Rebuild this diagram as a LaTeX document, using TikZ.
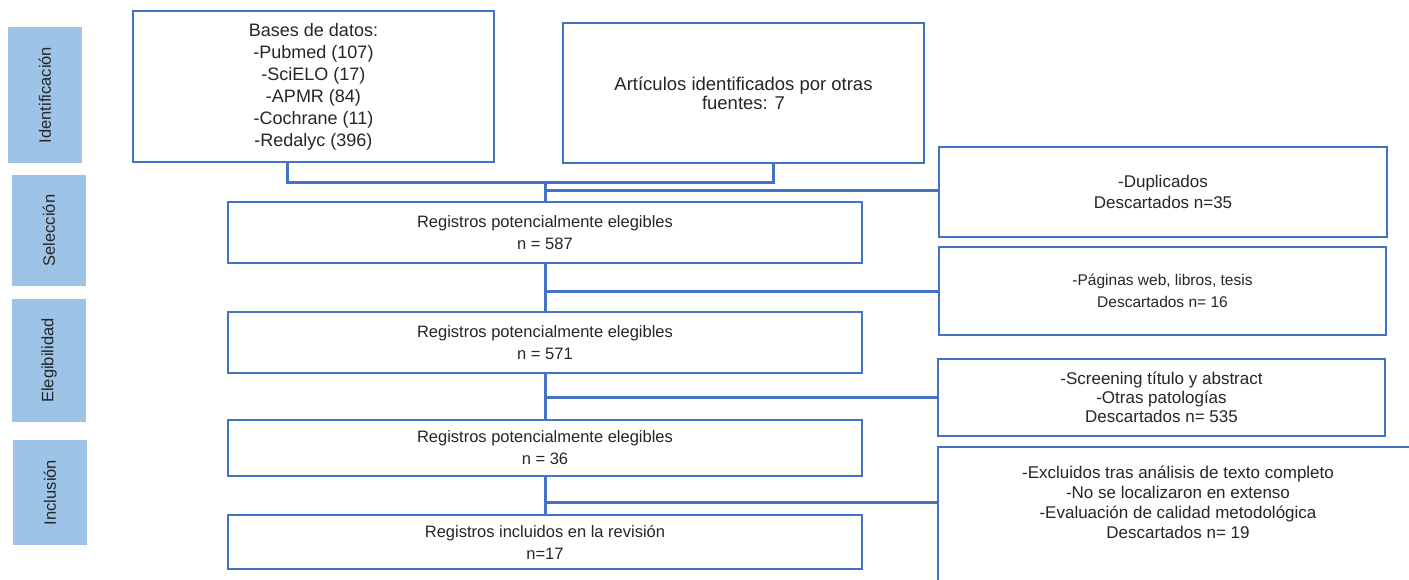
\documentclass[tikz,border=0pt]{standalone}
\usepackage{fontspec}
\setmainfont{Liberation Sans}
\definecolor{bord}{HTML}{4472C4}
\definecolor{sidefill}{HTML}{9DC3E6}
\definecolor{txt}{HTML}{262626}
\newcommand\fsz[2]{\fontsize{#1}{#2}\selectfont}
\begin{document}
\begin{tikzpicture}[x=1pt,y=-1pt,
  box/.style={draw=bord, line width=2pt, fill=white, text=txt, align=center, inner sep=0pt},
  sidelab/.style={fill=sidefill, text=txt, rotate=90, inner sep=0pt, font=\fsz{16.5}{19}},
  conn/.style={draw=bord, line width=3pt}]
\useasboundingbox (0,0) rectangle (1409,579);
\fill[white] (0,0) rectangle (1409,579);
\begin{scope}
\clip (0,0) rectangle (1409,579);
% side labels
\node[sidelab, minimum width=136, minimum height=74] (sid) at (45,95) {Identificación};
\node[sidelab, minimum width=111, minimum height=74] (sse) at (49,230.5) {Selección};
\node[sidelab, minimum width=123, minimum height=74] (sel) at (49,360.5) {Elegibilidad};
\node[sidelab, minimum width=105, minimum height=74] (sin) at (50,492.5) {Inclusión};
% top boxes
\node[box, minimum width=361, minimum height=151, font=\fsz{18}{22}] (bases) at (313.5,86.5)
  {Bases de datos:\\-Pubmed (107)\\-SciELO (17)\\-APMR (84)\\-Cochrane (11)\\-Redalyc (396)};
\node[box, minimum width=361, minimum height=140, font=\fsz{18.5}{19}] (art) at (743.5,93)
  {Artículos identificados por otras\\fuentes: 7};
% main column
\node[box, minimum width=634, minimum height=61, font=\fsz{16.5}{22}] (r1) at (545,232.5)
  {Registros potencialmente elegibles\\n = 587};
\node[box, minimum width=634, minimum height=61, font=\fsz{16.5}{22}] (r2) at (545,342.5)
  {Registros potencialmente elegibles\\n = 571};
\node[box, minimum width=634, minimum height=56, font=\fsz{16.5}{22}] (r3) at (545,448)
  {Registros potencialmente elegibles\\n = 36};
\node[box, minimum width=634, minimum height=54, font=\fsz{16.5}{22}] (r4) at (545,542)
  {Registros incluidos en la revisión\\n=17};
% right column
\node[box, minimum width=448, minimum height=90, font=\fsz{17}{21}] (dup) at (1163,192)
  {-Duplicados\\Descartados n=35};
\node[box, minimum width=447, minimum height=88, font=\fsz{15.5}{22}] (pag) at (1162.5,291)
  {-Páginas web, libros, tesis\\Descartados n= 16};
\node[box, minimum width=447, minimum height=77, font=\fsz{17}{19.3}] (scr) at (1161.5,397.5)
  {-Screening título y abstract\\-Otras patologías\\Descartados n= 535};
\node[box, anchor=north, minimum width=480, inner ysep=19pt, font=\fsz{17}{20}] (exc) at (1178,446)
  {-Excluidos tras análisis de texto completo\\-No se localizaron en extenso\\-Evaluación de calidad metodológica\\Descartados n= 19\\[40pt]\mbox{}};
% connectors
\coordinate (j1) at (287,182);
\coordinate (j2) at (773,182);
\draw[conn] (bases.south -| j1) -- (j1) -- (j2) -- (art.south -| j2);
\draw[conn] (j1 -| r1.north) -- (r1.north);
\coordinate (d1) at (545,190);
\draw[conn] (d1) -- (d1 -| dup.west);
\draw[conn] (r1.south) -- (r2.north);
\draw[conn] (r1.south |- pag.west) -- (pag.west);
\draw[conn] (r2.south) -- (r3.north);
\draw[conn] (r2.south |- scr.west) -- (scr.west);
\draw[conn] (r3.south) -- (r4.north);
\coordinate (e3) at (938,502);
\draw[conn] (r3.south |- e3) -- (e3);
\end{scope}
\end{tikzpicture}
\end{document}
